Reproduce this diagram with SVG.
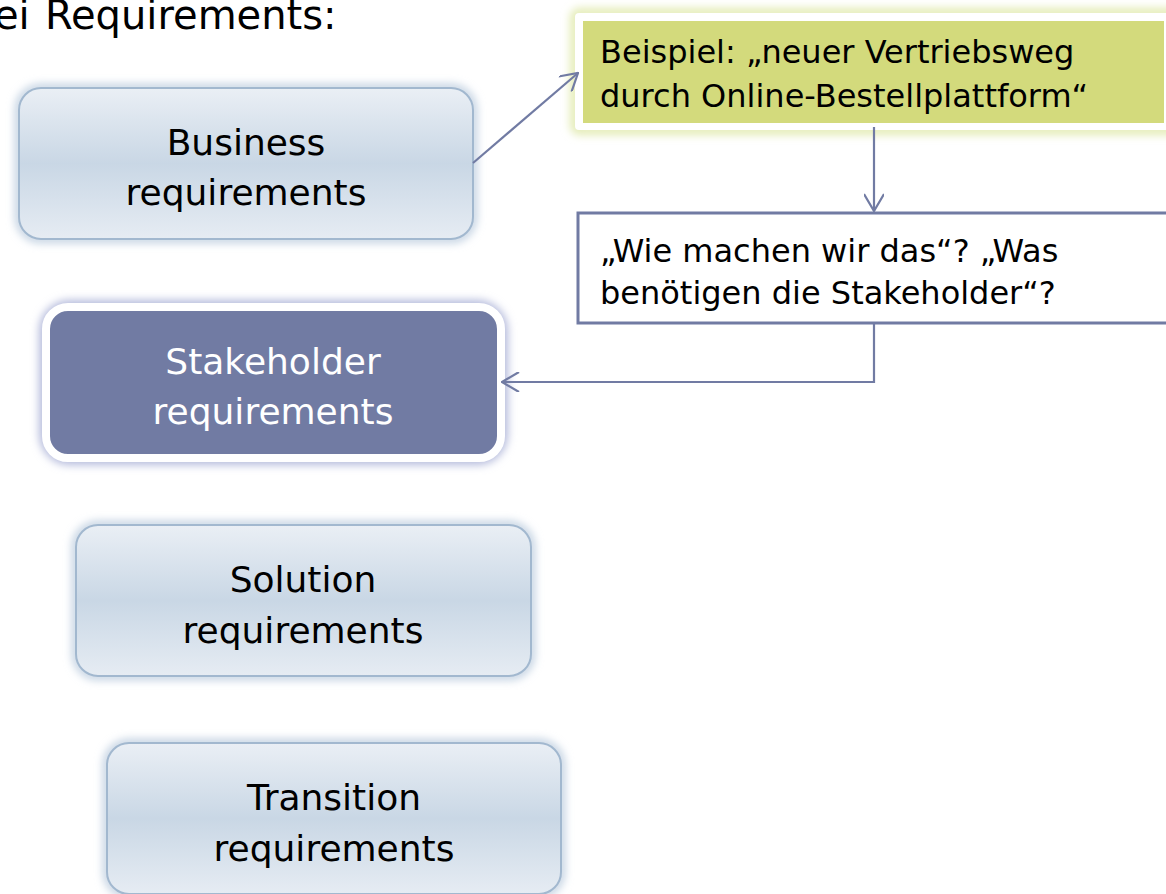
<svg xmlns="http://www.w3.org/2000/svg" width="1166" height="894" viewBox="0 0 1166 894">
  <defs>
    <linearGradient id="lightFill" x1="0" y1="0" x2="0" y2="1">
      <stop offset="0" stop-color="#eaeff5"/>
      <stop offset="0.5" stop-color="#c9d7e5"/>
      <stop offset="1" stop-color="#e6ecf3"/>
    </linearGradient>
    <filter id="glow" x="-10%" y="-20%" width="120%" height="140%">
      <feGaussianBlur stdDeviation="4"/>
    </filter>
    <marker id="open" viewBox="0 0 20 20" refX="19" refY="10" markerWidth="20" markerHeight="20" markerUnits="userSpaceOnUse" orient="auto">
      <path d="M2,0 L19,10 L2,20" fill="none" stroke="#717ba3" stroke-width="2.2"/>
    </marker>
    <style>
      .title { font-family: "DejaVu Sans", sans-serif; font-size: 40px; fill: #000; }
      .lbl { font-family: "DejaVu Sans", sans-serif; font-size: 36px; fill: #000; text-anchor: middle; }
      .lblw { font-family: "DejaVu Sans", sans-serif; font-size: 36px; fill: #fff; text-anchor: middle; }
      .note { font-family: "DejaVu Sans", sans-serif; font-size: 32px; fill: #000; }
      .light { fill: url(#lightFill); stroke: #a2b8cf; stroke-width: 2; }
      .lightglow { fill: none; stroke: #bfcfe0; stroke-width: 8; filter: url(#glow); }
      .conn { fill: none; stroke: #717ba3; stroke-width: 2.2; }
    </style>
  </defs>
  <rect width="1166" height="894" fill="#ffffff"/>

  <text class="title" y="29"><tspan x="-6">ei</tspan><tspan x="45">Requirements:</tspan></text>

  <g id="business">
    <rect class="lightglow" x="19" y="88" width="454" height="151" rx="22"/>
    <rect class="light" x="19" y="88" width="454" height="151" rx="22"/>
    <text class="lbl" x="246" y="155">Business</text>
    <text class="lbl" x="246" y="205">requirements</text>
  </g>

  <g id="stakeholder">
    <rect x="46" y="307" width="455" height="151" rx="24" fill="none" stroke="#b4badb" stroke-width="14" filter="url(#glow)"/>
    <rect x="46" y="307" width="455" height="151" rx="22" fill="#717ba3" stroke="#ffffff" stroke-width="8"/>
    <text class="lblw" x="273" y="374">Stakeholder</text>
    <text class="lblw" x="273" y="424">requirements</text>
  </g>

  <g id="solution">
    <rect class="lightglow" x="76" y="525" width="455" height="151" rx="22"/>
    <rect class="light" x="76" y="525" width="455" height="151" rx="22"/>
    <text class="lbl" x="303" y="592">Solution</text>
    <text class="lbl" x="303" y="643">requirements</text>
  </g>

  <g id="transition">
    <rect class="lightglow" x="107" y="743" width="454" height="151" rx="22"/>
    <rect class="light" x="107" y="743" width="454" height="151" rx="22"/>
    <text class="lbl" x="334" y="810">Transition</text>
    <text class="lbl" x="334" y="861">requirements</text>
  </g>

  <g id="example">
    <rect x="575" y="13" width="600" height="117" rx="4" fill="none" stroke="#e3ebb4" stroke-width="10" filter="url(#glow)"/>
    <rect x="575" y="13" width="600" height="117" rx="4" fill="#ffffff"/>
    <rect x="583" y="21" width="581" height="102" fill="#d3da7c"/>
    <text class="note" x="600" y="63">Beispiel: „neuer Vertriebsweg</text>
    <text class="note" x="600" y="107">durch Online-Bestellplattform“</text>
  </g>

  <g id="question">
    <rect x="578" y="213" width="620" height="110" fill="#ffffff" stroke="#717ba3" stroke-width="3"/>
    <text class="note" x="600" y="262">„Wie machen wir das“? „Was</text>
    <text class="note" x="600" y="304">benötigen die Stakeholder“?</text>
  </g>

  <g id="connectors">
    <path class="conn" d="M473,163 L578,73" marker-end="url(#open)"/>
    <path class="conn" d="M874,127 L874,211" marker-end="url(#open)"/>
    <path class="conn" d="M874,323 L874,382 L502,382" marker-end="url(#open)"/>
  </g>
</svg>
